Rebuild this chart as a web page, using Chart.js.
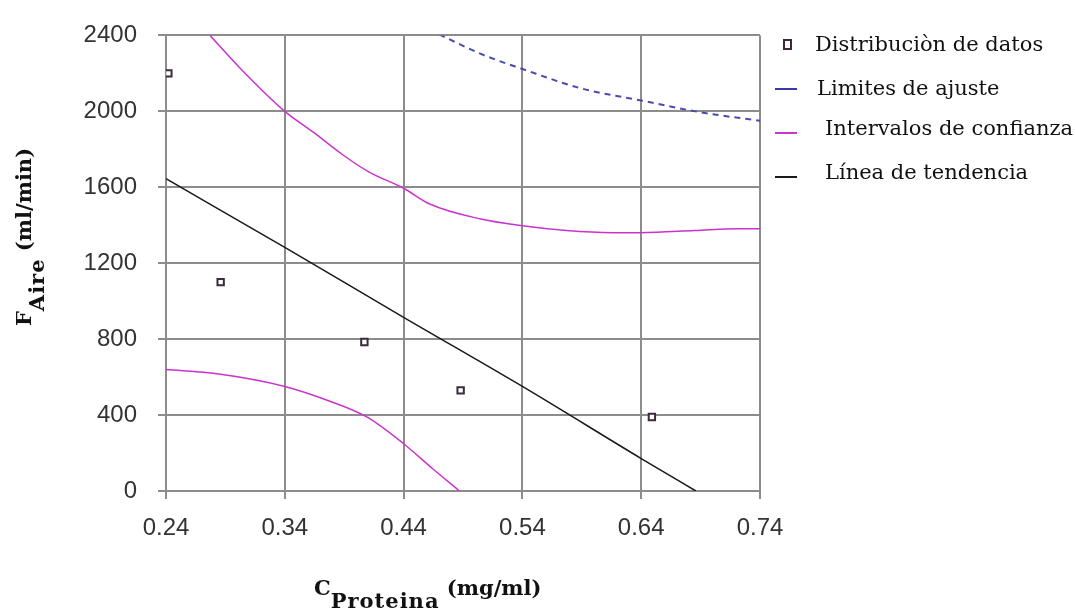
<!DOCTYPE html>
<html>
<head>
<meta charset="utf-8">
<script src="https://cdn.jsdelivr.net/npm/chart.js@4"></script>
<style>
  body { margin: 0; background: #fff; }
  #wrap { position: relative; width: 1075px; height: 615px; }
  canvas { position: absolute; left: 0; top: 0; }
  .leg { position: absolute; font-family: "DejaVu Serif", serif; font-size: 21px; color: #111; white-space: nowrap; line-height: 1; }
  .mk { position: absolute; height: 2px; width: 22px; }
  .sq { position: absolute; width: 5px; height: 7px; border: 2px solid #3a2a3a; }
  .ttl { position: absolute; font-family: "DejaVu Serif", serif; font-weight: bold; font-size: 21px; color: #111; white-space: nowrap; }
  .ttl sub { font-size: 21px; vertical-align: -13px; letter-spacing: 1px; }
  #ytitle { transform: rotate(-90deg); transform-origin: center center; }
</style>
</head>
<body>
<div id="wrap">
  <canvas id="chart" width="1075" height="615"></canvas>
  <div class="sq" style="left:783px; top:39px;"></div>
  <div class="leg" style="left:815px; top:34px;">Distribuciòn de datos</div>
  <div class="mk" style="left:775px; top:88px; background:#3a3aa8;"></div>
  <div class="leg" style="left:817px; top:78px;">Limites de ajuste</div>
  <div class="mk" style="left:775px; top:132px; background:#cc33cc;"></div>
  <div class="leg" style="left:825px; top:118px;">Intervalos de confianza</div>
  <div class="mk" style="left:775px; top:176px; background:#1a1a1a;"></div>
  <div class="leg" style="left:825px; top:162px;">Línea de tendencia</div>
  <div class="ttl" style="left:314px; top:575px;">C<sub>Proteina</sub> (mg/ml)</div>
  <div class="ttl" id="ytitle" style="left:-90px; top:218px; width:240px; text-align:center;">F<sub>Aire</sub> (ml/min)</div>
</div>
<script>
// data
const xTicks = [0.24, 0.34, 0.44, 0.54, 0.64, 0.74];
const yTicks = [0, 400, 800, 1200, 1600, 2000, 2400];

const pointX = [0.242, 0.286, 0.407, 0.488, 0.649];
const pointY = [2200, 1100, 785, 530, 390];

const trendX = [0.24, 0.34, 0.44, 0.54, 0.64, 0.686];
const trendY = [1645, 1283, 915, 551, 171, 0];

const upperX = [0.277, 0.302, 0.34, 0.364, 0.389, 0.411, 0.44, 0.462, 0.504, 0.54, 0.577, 0.616, 0.64, 0.685, 0.722, 0.74];
const upperY = [2400, 2230, 2000, 1890, 1770, 1680, 1595, 1512, 1434, 1397, 1372, 1361, 1361, 1372, 1382, 1382];

const lowerX = [0.24, 0.283, 0.34, 0.378, 0.409, 0.44, 0.464, 0.487];
const lowerY = [640, 618, 551, 473, 390, 249, 120, 0];

const limitX = [0.47, 0.506, 0.54, 0.59, 0.64, 0.69, 0.74];
const limitY = [2405, 2300, 2223, 2120, 2057, 1995, 1950];

function pts(xs, ys) {
  return xs.map((x, i) => ({ x: x, y: ys[i] }));
}

function lineSet(label, xs, ys, color, extra) {
  return Object.assign({
    label: label,
    data: pts(xs, ys),
    showLine: true,
    borderColor: color,
    backgroundColor: color,
    borderWidth: 1.5,
    pointRadius: 0,
    cubicInterpolationMode: "monotone",
    fill: false,
  }, extra || {});
}

const gridColor = "#8c8c8c";
const tickFont = { family: "'Liberation Sans', Arial, sans-serif", size: 24 };

new Chart(document.getElementById("chart").getContext("2d"), {
  type: "scatter",
  data: {
    datasets: [
      lineSet("Limites de ajuste", limitX, limitY, "#4a4ab0", { borderDash: [6, 5], borderWidth: 2 }),
      lineSet("Intervalos de confianza", upperX, upperY, "#cc33cc"),
      lineSet("Intervalos de confianza", lowerX, lowerY, "#cc33cc"),
      lineSet("Línea de tendencia", trendX, trendY, "#1a1a1a"),
      {
        label: "Distribuciòn de datos",
        data: pts(pointX, pointY),
        pointStyle: "rect",
        pointRadius: 4.5,
        borderWidth: 2,
        borderColor: "#3a2a3a",
        backgroundColor: "#ffffff",
      },
    ],
  },
  options: {
    responsive: false,
    animation: false,
    layout: { padding: { left: 0, top: 29, right: 315, bottom: 0 } },
    plugins: {
      legend: { display: false },
      tooltip: { enabled: false },
    },
    scales: {
      x: {
        type: "linear",
        min: 0.24,
        max: 0.74,
        afterFit: (s) => { s.height = 124; },
        afterBuildTicks: (s) => { s.ticks = xTicks.map((v) => ({ value: v })); },
        grid: { color: gridColor, lineWidth: 2, tickLength: 8 },
        border: { color: gridColor, width: 2 },
        ticks: {
          padding: 15,
          color: "#333",
          font: tickFont,
          callback: (v) => v.toFixed(2),
        },
      },
      y: {
        min: 0,
        max: 2400,
        afterFit: (s) => { s.width = 166; },
        afterBuildTicks: (s) => { s.ticks = yTicks.map((v) => ({ value: v })); },
        grid: { color: gridColor, lineWidth: 2, tickLength: 8 },
        border: { color: gridColor, width: 2 },
        ticks: {
          padding: 21,
          color: "#333",
          font: tickFont,
          callback: (v) => String(v),
        },
      },
    },
  },
});
</script>
</body>
</html>
